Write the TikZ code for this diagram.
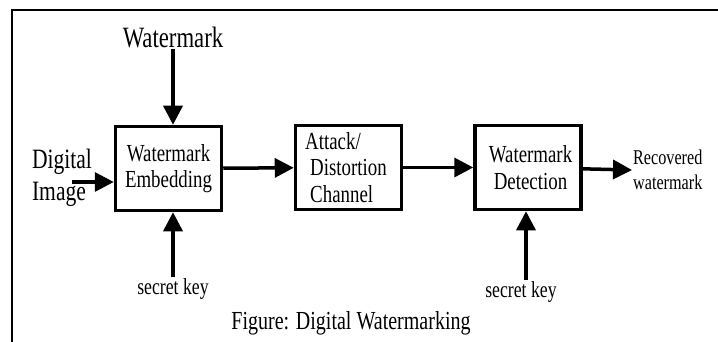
\documentclass[tikz,border=0pt]{standalone}
\usepackage{fontspec}
\setmainfont{Liberation Serif}[FakeStretch=0.77]
\usetikzlibrary{arrows.meta}
\tikzset{
  block/.style={draw, line width=3.5pt, minimum width=106pt, minimum height=84pt,
    align=center, inner sep=0pt},
  flow/.style={-{Triangle[length=19pt,width=19pt]}, line width=3.5pt},
  big/.style={font=\fontsize{28}{32}\selectfont},
  mid/.style={font=\fontsize{24.5}{26.5}\selectfont},
  small/.style={font=\fontsize{21}{25}\selectfont},
  keytext/.style={font=\fontsize{23}{25}\selectfont, inner sep=1pt}
}
\begin{document}
\begin{tikzpicture}[x=1pt,y=-1pt]
      \useasboundingbox (0,0) rectangle (718,342);
      % frame
      \draw[line width=2.5pt] (12,342) -- (12,10) -- (718,10);
      \draw
        (168.5,168.5) node[block, mid] (emb){Watermark\\Embedding}
        (348.5,167.5) node[block, mid, align=left] (chan){\hspace*{-5pt}Attack/\\Distortion\\Channel}
        (528,167.5) node[block, mid] (det){\hspace*{5pt}Watermark\\\hspace*{5pt}Detection}
        (173,37) node[big, font=\fontsize{29.5}{32}\selectfont, inner sep=1pt] (wm){Watermark}
        (62,177.5) node[big, align=left, inner sep=0pt] (img){Digital\\Image}
        (632,170) node[small, anchor=west, align=left, inner sep=1pt] (out){Recovered\\watermark}
        (173,289) node[keytext] (key1){secret key}
        (521,292) node[keytext] (key2){secret key}
        (351,323) node[font=\fontsize{26}{28}\selectfont] (cap){Figure: Digital Watermarking};
      \coordinate (in) at (72,182);
      \coordinate (k2) at (526,280);
      \begin{scope}[flow]
        \draw (wm.south) to (wm.south |- emb.north);
        \draw (in) to (in -| emb.west);
        \draw (emb) to (chan);
        \draw (chan) to (det);
        \draw (det) to (out.west);
        \draw (key1.north) to (key1.north |- emb.south);
        \draw (k2) to (k2 |- det.south);
      \end{scope}
    \end{tikzpicture}
\end{document}
